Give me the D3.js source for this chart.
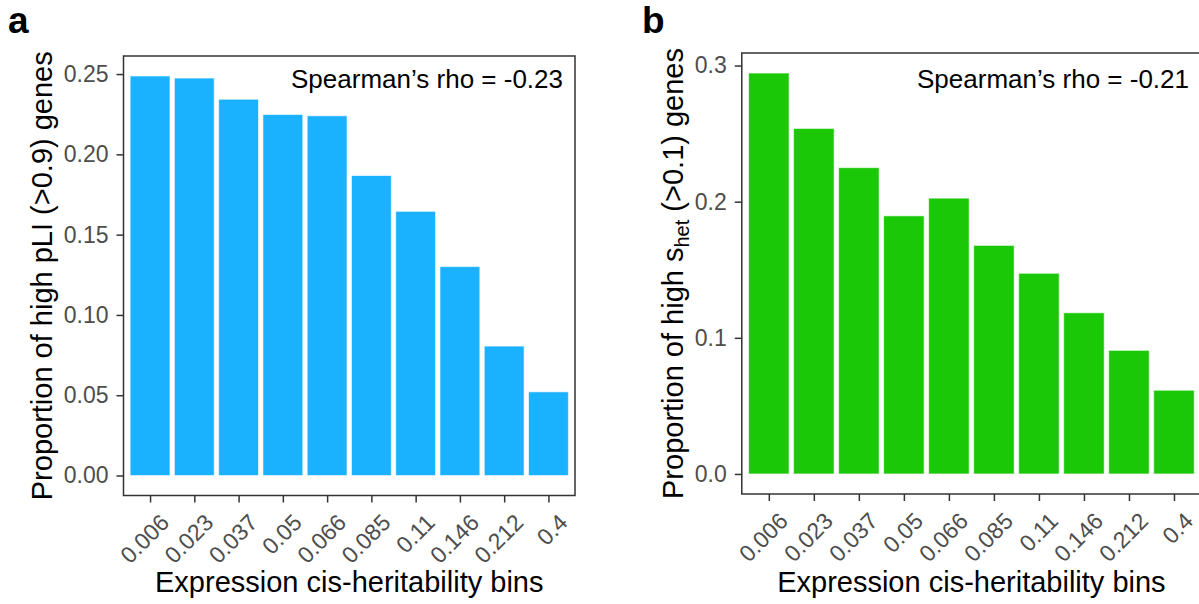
<!DOCTYPE html>
<html>
<head>
<meta charset="utf-8">
<script src="https://cdn.jsdelivr.net/npm/d3@7"></script>
<style>
  body { margin: 0; background: #fff; }
  svg { display: block; font-family: "Liberation Sans", Arial, sans-serif; }
</style>
</head>
<body>
<svg id="chart" width="1199" height="604"></svg>
<script>
const bins = ["0.006", "0.023", "0.037", "0.05", "0.066", "0.085", "0.11", "0.146", "0.212", "0.4"];
const pliValues = [0.2488, 0.2475, 0.2343, 0.2248, 0.2240, 0.1868, 0.1645, 0.1301, 0.0806, 0.0521];
const shetValues = [0.2945, 0.2538, 0.2250, 0.1896, 0.2026, 0.1679, 0.1474, 0.1184, 0.0908, 0.0615];
const pliTicks = [0, 0.05, 0.10, 0.15, 0.20, 0.25];
const shetTicks = [0, 0.1, 0.2, 0.3];
const rhoA = "Spearman\u2019s rho = -0.23";
const rhoB = "Spearman\u2019s rho = -0.21";

const TICK_LEN = 7;
const TICK_FONT = 23;
const TITLE_FONT = 29;

const svg = d3.select("#chart");

function drawPanel(cfg) {
  const { left, right, top, bottom, values, ticks, fmt, color, rho, label, labelX, titleX, titleParts } = cfg;
  const g = svg.append("g");

  const maxV = d3.max(values);
  const pad = maxV * 0.05;
  const y = d3.scaleLinear().domain([-pad, maxV + pad]).range([bottom, top]);
  const x = d3.scalePoint().domain(bins).range([left, right]).padding(0.6);
  const bw = x.step() * 0.9;

  g.selectAll("rect.bar")
    .data(values)
    .join("rect")
    .attr("class", "bar")
    .attr("x", (d, i) => x(bins[i]) - bw / 2)
    .attr("width", bw)
    .attr("y", d => y(d))
    .attr("height", d => y(0) - y(d))
    .attr("fill", color)
    .attr("stroke", "#fff")
    .attr("stroke-opacity", 0.6)
    .attr("stroke-width", 1);

  // frame
  g.append("rect")
    .attr("x", left).attr("y", top)
    .attr("width", right - left).attr("height", bottom - top)
    .attr("fill", "none")
    .attr("stroke", "#333")
    .attr("stroke-width", 1.5);

  // y axis
  const yAxis = g.append("g")
    .attr("transform", `translate(${left},0)`)
    .call(d3.axisLeft(y).tickValues(ticks).tickFormat(fmt).tickSize(TICK_LEN).tickPadding(8));
  yAxis.select(".domain").remove();
  yAxis.selectAll("line").attr("stroke", "#333").attr("stroke-width", 1.5);
  yAxis.selectAll("text")
    .attr("fill", "#4D4D4D")
    .attr("font-size", TICK_FONT)
    .attr("font-family", "Liberation Sans, Arial, sans-serif");

  // x axis
  const xAxis = g.append("g")
    .attr("transform", `translate(0,${bottom})`)
    .call(d3.axisBottom(x).tickSize(TICK_LEN).tickFormat(""));
  xAxis.select(".domain").remove();
  xAxis.selectAll("line").attr("stroke", "#333").attr("stroke-width", 1.5);

  g.selectAll("text.xtick")
    .data(bins)
    .join("text")
    .attr("class", "xtick")
    .attr("transform", d => `translate(${x(d) + 9},${bottom + 17}) rotate(-45)`)
    .attr("text-anchor", "end")
    .attr("dy", "0.71em")
    .attr("fill", "#4D4D4D")
    .attr("font-size", TICK_FONT)
    .text(d => d);

  // axis titles
  g.append("text")
    .attr("x", (left + right) / 2)
    .attr("y", 592)
    .attr("text-anchor", "middle")
    .attr("font-size", TITLE_FONT)
    .text("Expression cis-heritability bins");

  const yt = g.append("text")
    .attr("transform", `translate(${titleX},${(top + bottom) / 2}) rotate(-90)`)
    .attr("text-anchor", "middle")
    .attr("font-size", TITLE_FONT);
  titleParts.forEach(p => {
    const t = yt.append("tspan").text(p.text);
    if (p.sub) t.attr("font-size", 20).attr("dy", 6);
    if (p.back) t.attr("dy", -6);
  });

  // annotation
  g.append("text")
    .attr("x", right - 12)
    .attr("y", 88)
    .attr("text-anchor", "end")
    .attr("font-size", 26)
    .text(rho);

  // panel letter
  svg.append("text")
    .attr("x", labelX)
    .attr("y", 33)
    .attr("font-size", 37)
    .attr("font-weight", "bold")
    .text(label);
}

drawPanel({
  left: 123.5, right: 575, top: 56, bottom: 495.5,
  values: pliValues, ticks: pliTicks, fmt: d3.format(".2f"),
  color: "#1AB1FF", rho: rhoA, label: "a", labelX: 8, titleX: 52,
  titleParts: [{ text: "Proportion of high pLI (>0.9) genes" }]
});

drawPanel({
  left: 741.8, right: 1201, top: 53, bottom: 494,
  values: shetValues, ticks: shetTicks, fmt: d3.format(".1f"),
  color: "#1AC807", rho: rhoB, label: "b", labelX: 642, titleX: 683,
  titleParts: [
    { text: "Proportion of high s" },
    { text: "het", sub: true },
    { text: " (>0.1) genes", back: true }
  ]
});
</script>
</body>
</html>
